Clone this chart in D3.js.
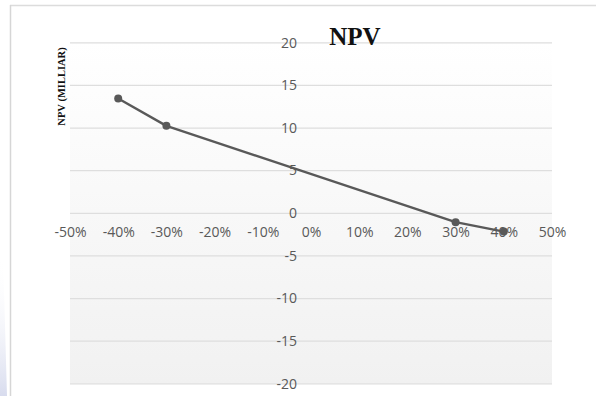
<!DOCTYPE html>
<html>
<head>
<meta charset="utf-8">
<script src="https://cdn.jsdelivr.net/npm/d3@7"></script>
<style>
  html, body { margin: 0; padding: 0; background: #ffffff; }
  svg { display: block; }
</style>
</head>
<body>
<svg id="chart" width="596" height="396"></svg>
<script>
// ---- data ----
const xValues = [-0.40, -0.30, 0.30, 0.40];
const npvValues = [13.4, 10.2, -1.1, -2.2];
const xTicks = [-0.5, -0.4, -0.3, -0.2, -0.1, 0, 0.1, 0.2, 0.3, 0.4, 0.5];
const yTicks = [-20, -15, -10, -5, 0, 5, 10, 15, 20];
const chartTitle = "NPV";
const yAxisTitle = "NPV (MILLIAR)";

const svg = d3.select("#chart");
const W = 596, H = 396;
const plot = { left: 70, right: 552, top: 42.3, bottom: 383.3 };

const x = d3.scaleLinear().domain([-0.5, 0.5]).range([plot.left, plot.right]);
const y = d3.scaleLinear().domain([-20, 20]).range([plot.bottom, plot.top]);

const hyphen = f => d => f(d).replace("\u2212", "-");
const fmtPct = hyphen(d3.format(".0%"));
const fmtInt = hyphen(d3.format("d"));

const defs = svg.append("defs");
const bg = defs.append("linearGradient").attr("id", "bgGrad")
  .attr("x1", 0).attr("y1", 0).attr("x2", 0).attr("y2", 1);
bg.append("stop").attr("offset", "0%").attr("stop-color", "#ffffff");
bg.append("stop").attr("offset", "100%").attr("stop-color", "#f1f1f1");

const glow = defs.append("linearGradient").attr("id", "glowGrad")
  .attr("x1", 0).attr("y1", 0).attr("x2", 0).attr("y2", 1);
glow.append("stop").attr("offset", "0%").attr("stop-color", "#ffffff").attr("stop-opacity", 0);
glow.append("stop").attr("offset", "100%").attr("stop-color", "#d8dcee").attr("stop-opacity", 1);

// decorative bluish glow at bottom-left edge
svg.append("path")
  .attr("d", `M0,255 L3,255 L7,396 L0,396 Z`)
  .attr("fill", "url(#glowGrad)");

// outer frame (top & left)
svg.append("line").attr("x1", 10).attr("x2", W).attr("y1", 5.5).attr("y2", 5.5)
  .attr("stroke", "#dcdcdc").attr("stroke-width", 1.5);
svg.append("line").attr("x1", 10.5).attr("x2", 10.5).attr("y1", 5).attr("y2", H)
  .attr("stroke", "#d6d6d6").attr("stroke-width", 1.5);

// plot background
svg.append("rect")
  .attr("x", plot.left).attr("y", y(20))
  .attr("width", plot.right - plot.left).attr("height", y(-20) - y(20))
  .attr("fill", "url(#bgGrad)");

// gridlines
const grid = svg.append("g").attr("transform", `translate(${plot.right},0)`);
grid.call(d3.axisRight(y).tickValues(yTicks).tickSize(-(plot.right - plot.left)).tickFormat(""));
grid.select(".domain").remove();
grid.selectAll(".tick line").attr("stroke", "#dedede").attr("stroke-width", 1.2);

// y axis labels at x = 0
const yAxis = svg.append("g").attr("transform", `translate(${x(0)},0)`)
  .call(d3.axisLeft(y).tickValues(yTicks).tickSize(0).tickPadding(14).tickFormat(fmtInt));
yAxis.select(".domain").remove();
yAxis.selectAll("text")
  .attr("font-family", "'Open Sans', sans-serif").attr("font-size", 14)
  .attr("fill", "#595959").attr("dy", "0.34em");

// x axis labels at y = 0
const xAxis = svg.append("g").attr("transform", `translate(0,${y(0)})`)
  .call(d3.axisBottom(x).tickValues(xTicks).tickSize(0).tickPadding(14).tickFormat(fmtPct));
xAxis.select(".domain").remove();
xAxis.selectAll("text")
  .attr("font-family", "'Open Sans', sans-serif").attr("font-size", 14)
  .attr("fill", "#595959");

// line
const pts = xValues.map((v, i) => ({ x: v, y: npvValues[i] }));
const line = d3.line().x(d => x(d.x)).y(d => y(d.y));
svg.append("path").datum(pts).attr("d", line)
  .attr("fill", "none").attr("stroke", "#595959").attr("stroke-width", 2.4)
  .attr("stroke-linejoin", "round");
svg.selectAll("circle.pt").data(pts).enter().append("circle")
  .attr("class", "pt")
  .attr("cx", d => x(d.x)).attr("cy", d => y(d.y)).attr("r", 4)
  .attr("fill", "#595959");

// title
svg.append("text").attr("x", 355).attr("y", 45)
  .attr("text-anchor", "middle")
  .attr("font-family", "'Liberation Serif', 'Times New Roman', serif")
  .attr("font-weight", "bold").attr("font-size", 25).attr("fill", "#111")
  .text(chartTitle);

// y axis title
svg.append("text")
  .attr("transform", `translate(64.5,86.5) rotate(-90)`)
  .attr("text-anchor", "middle")
  .attr("font-family", "'Liberation Serif', 'Times New Roman', serif")
  .attr("font-weight", "bold").attr("font-size", 10.5).attr("fill", "#111")
  .text(yAxisTitle);
</script>
</body>
</html>
